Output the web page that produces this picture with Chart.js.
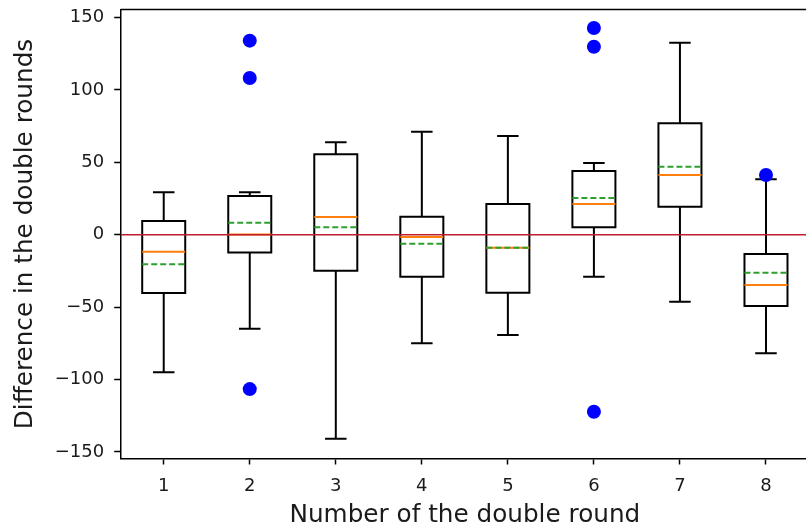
<!DOCTYPE html>
<html><head><meta charset="utf-8">
<script src="https://cdn.jsdelivr.net/npm/chart.js@4.4.0/dist/chart.umd.min.js"></script>
<style>html,body{margin:0;padding:0;overflow:hidden;background:#fff}</style>
</head><body>
<canvas id="c" width="816" height="529" style="display:block"></canvas>
<script>
// ---- data ----
const rounds      = [1, 2, 3, 4, 5, 6, 7, 8];
const whiskerLow  = [-95, -64.9, -140.9, -75, -69.3, -29, -46.3, -81.9];
const q1          = [-40.3, -12.2, -24.9, -29, -40, 5.1, 19.3, -49.2];
const median      = [-11.7, 0.2, 12.2, -1.6, -9, 21.2, 41.2, -34.7];
const mean        = [-20.4, 8.3, 5.1, -6.2, -9, 25.3, 47, -26.2];
const q3          = [9.5, 26.7, 55.5, 12.4, 21.2, 44, 76.9, -13.3];
const whiskerHigh = [29.4, 29.4, 63.8, 71.1, 68.2, 49.5, 132.6, 38.3];
const outliers    = [[], [134, 108.2, -106.6], [], [], [], [142.7, 129.8, -122.2], [], [41.2]];
const yTicks      = [-150, -100, -50, 0, 50, 100, 150];
const referenceLine = 0;

const BOX = 0.25, CAP = 0.125;
const TXT = '#1a1a1a';
const FONT = 'DejaVu Sans';

function polyPts(list){ // list of point arrays; separated by gaps
  const pts = [];
  list.forEach(arr => { arr.forEach(p => pts.push({x:p[0], y:p[1]})); pts.push({x:arr[arr.length-1][0], y:null}); });
  return pts;
}
const boxPts = polyPts(rounds.map((r,i)=>[[r-BOX,q1[i]],[r+BOX,q1[i]],[r+BOX,q3[i]],[r-BOX,q3[i]],[r-BOX,q1[i]]]));
const whiskPts = polyPts(rounds.flatMap((r,i)=>[[[r,q1[i]],[r,whiskerLow[i]]],[[r,q3[i]],[r,whiskerHigh[i]]]]));
const capPts = polyPts(rounds.flatMap((r,i)=>[[[r-CAP,whiskerLow[i]],[r+CAP,whiskerLow[i]]],[[r-CAP,whiskerHigh[i]],[r+CAP,whiskerHigh[i]]]]));
const medPts = polyPts(rounds.map((r,i)=>[[r-BOX,median[i]],[r+BOX,median[i]]]));
const meanPts = polyPts(rounds.map((r,i)=>[[r-BOX,mean[i]],[r+BOX,mean[i]]]));
const outPts = rounds.flatMap((r,i)=>outliers[i].map(v=>({x:r,y:v})));
const zeroPts = [{x:0.5,y:referenceLine},{x:8.5,y:referenceLine}];

const lineBase = {type:'line', showLine:true, pointRadius:0, pointHoverRadius:0, tension:0, fill:false, spanGaps:false, borderJoinStyle:'miter'};

const topSpine = {
  id:'topSpine',
  afterDraw(chart){
    const {ctx, chartArea:a} = chart;
    ctx.save(); ctx.strokeStyle='#000'; ctx.lineWidth=1.5;
    ctx.beginPath(); ctx.moveTo(a.left, a.top); ctx.lineTo(a.right, a.top); ctx.moveTo(a.right,a.top); ctx.lineTo(a.right,a.bottom); ctx.stroke();
    ctx.restore();
  }
};
const noPad = s => { s.paddingTop = 0; s.paddingBottom = 0; s.paddingLeft = 0; s.paddingRight = 0; };

new Chart(document.getElementById('c'), {
  type:'line',
  data:{datasets:[
    {...lineBase, data:zeroPts, borderColor:'#bf1e2e', borderWidth:1.6},
    {type:'scatter', data:outPts, pointRadius:7, pointBackgroundColor:'#0000ff', pointBorderWidth:0, borderColor:'#0000ff', showLine:false},
    {...lineBase, data:meanPts, borderColor:'#2ca02c', borderWidth:2, borderDash:[6,3], borderCapStyle:'butt'},
    {...lineBase, data:medPts, borderColor:'#ff7f0e', borderWidth:2, borderCapStyle:'butt'},
    {...lineBase, data:capPts, borderColor:'#000', borderWidth:2, borderCapStyle:'butt'},
    {...lineBase, data:whiskPts, borderColor:'#000', borderWidth:2, borderCapStyle:'butt'},
    {...lineBase, data:boxPts, borderColor:'#000', borderWidth:2, borderCapStyle:'square'}
  ]},
  options:{
    responsive:false, animation:false, devicePixelRatio:1,
    layout:{padding:{top:9.5, right:2, left:0, bottom:0}},
    plugins:{legend:{display:false}, tooltip:{enabled:false}},
    scales:{
      x:{type:'linear', min:0.5, max:8.5,
        afterBuildTicks:s=>{s.ticks = rounds.map(v=>({value:v}));},
        afterFit:s=>{s.height = 529-458.5; noPad(s);},
        ticks:{font:{family:FONT,size:18}, color:TXT, padding:11, callback:v=>String(v)},
        grid:{display:true, drawOnChartArea:false, drawTicks:true, tickLength:6, tickWidth:1.5, tickColor:'#000'},
        border:{display:true, color:'#000', width:1.5},
        title:{display:true, text:'Number of the double round', color:TXT, font:{family:FONT,size:24.7,lineHeight:1.2}, padding:{top:0,bottom:-1}}
      },
      y:{type:'linear', min:-154.5, max:155.5,
        afterBuildTicks:s=>{s.ticks = yTicks.map(v=>({value:v}));},
        afterFit:s=>{s.width = 120.7; noPad(s);},
        ticks:{font:{family:FONT,size:18}, color:TXT, padding:10, callback:v=>String(v).replace('-','\u2212')},
        grid:{display:true, drawOnChartArea:false, drawTicks:true, tickLength:6.5, tickWidth:1.5, tickColor:'#000'},
        border:{display:true, color:'#000', width:1.5},
        title:{display:true, text:'Difference in the double rounds', color:TXT, font:{family:FONT,size:24.7,lineHeight:1.2}, padding:{top:10.3,bottom:0}}
      }
    }
  },
  plugins:[topSpine]
});
</script>
</body></html>
